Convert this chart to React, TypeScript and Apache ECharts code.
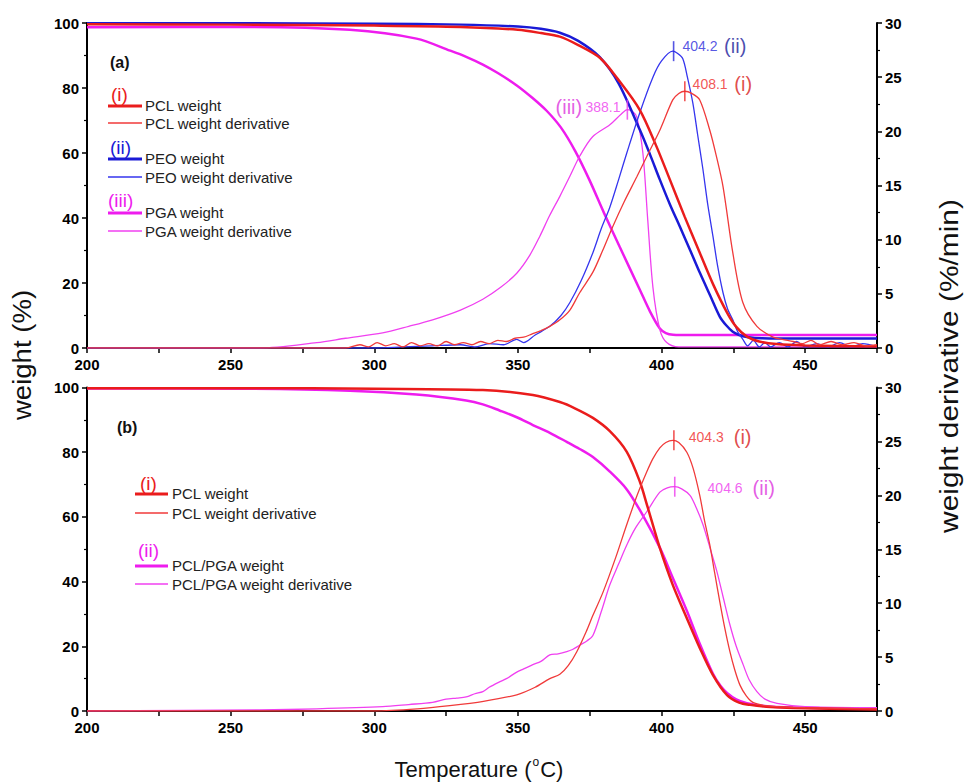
import React, { useEffect, useRef } from "react";
import * as echarts from "echarts";

type P = [number, number];

// ---------- Panel (a) ----------
const pclWeightA: P[] = [
  [200, 99.6], [250, 99.5], [300, 99.2], [330, 98.8], [350, 97.9], [358, 96.9], [364.6, 95.8],
  [371, 93.2], [378.5, 89.3], [385, 82.5], [392.4, 73.3], [398, 62.5], [402.9, 51.8], [408, 40.5],
  [413.3, 29.3], [418, 19.5], [422.8, 10.9], [426, 6.5], [429.7, 3.5], [434, 2], [440, 1.2],
  [450, 0.8], [475, 0.5],
];
const peoWeightA: P[] = [
  [200, 99.9], [250, 99.9], [300, 99.8], [330, 99.5], [350, 98.9], [358, 98.2], [364.6, 97],
  [371, 94.5], [378.5, 89.5], [385, 81.5], [392.4, 67.2], [396, 59.5], [399.4, 51.8], [403, 44],
  [406.4, 37.3], [410, 30], [413.3, 23.2], [417, 16], [420.3, 9.6], [422.5, 7], [424.8, 5],
  [427, 4], [429.7, 3.4], [435, 3.0], [450, 2.9], [475, 2.9],
];
const pgaWeightA: P[] = [
  [200, 98.7], [256.6, 98.8], [291.5, 97.9], [314.7, 95.2], [326.4, 91.5], [332, 89.6],
  [337.8, 87.2], [343, 84.6], [349.6, 80.8], [355, 77], [360, 73], [365, 67.8], [370, 60.5],
  [375, 51.5], [380, 41.5], [385.5, 31], [392.4, 18], [396, 11.2], [399.4, 6], [401.5, 4.6],
  [404, 4.1], [410, 4], [475, 4],
];
const pclDerivA: P[] = [
  [200, 0], [290, 0], [295, 0.3], [298, 0.1], [301, 0.5], [304, 0.2], [307, 0.4], [310, 0.1],
  [313, 0.5], [316, 0.2], [319, 0.4], [322, 0.2], [325, 0.6], [328, 0.3], [331, 0.5], [334, 0.3],
  [337, 0.6], [340, 0.4], [343, 0.7], [346, 0.6], [349, 0.9], [352, 1.0], [355, 1.3], [358, 1.6],
  [361.1, 2.0], [364.6, 2.6], [368.1, 3.5], [371.5, 5.1], [376.1, 7], [379.5, 9], [383, 11.2],
  [387, 13.5], [391.4, 15.8], [394.9, 17.7], [399.4, 20.1], [403.9, 22.9], [406, 23.5],
  [408.1, 23.7], [410.5, 23.5], [413.3, 22.9], [416.8, 20.1], [419, 17.8], [421.4, 14.9],
  [424.8, 8.8], [428.3, 4.2], [433.2, 2.0], [438.8, 1.0], [442, 0.8], [445.8, 0.6], [449, 0.4],
  [452, 0.7], [455, 0.3], [459, 0.6], [463, 0.3], [467, 0.5], [471, 0.2], [475, 0.3],
];
const peoDerivA: P[] = [
  [200, 0], [300, 0], [310, 0.1], [320, 0.2], [330, 0.3], [335, 0.1], [340, 0.4], [345, 0.3],
  [349.6, 0.8], [352, 0.5], [356, 1.2], [361.1, 2.0], [365, 3.0], [368.1, 4.2], [372, 6.2],
  [376.1, 8.8], [379, 11], [382, 13], [385, 15.5], [387.9, 18], [392.4, 21.7], [397, 25],
  [400, 26.5], [403.9, 27.4], [405.5, 27.2], [407.4, 26.7], [409, 25], [410.9, 22.6],
  [412.5, 19.8], [414.4, 16.5], [416, 13.4], [417.9, 10.3], [419.5, 7.6], [421.4, 5.1],
  [423, 3.6], [424.8, 2.6], [426.5, 1.5], [428.3, 0.8], [430, 0.2], [432, 0.7], [434, 0.1],
  [436, 0.5], [438, 0.1], [441, 0.5], [444, 0.1], [447, 0.6], [450, 0.1], [454, 0.4],
  [458, 0.1], [462, 0.5], [466, 0.1], [470, 0.4], [475, 0.1],
];
const pgaDerivA: P[] = [
  [200, 0], [260, 0], [280, 0.5], [290, 0.9], [302.9, 1.4], [312, 2.0], [320.3, 2.6],
  [330, 3.5], [337.8, 4.5], [344, 5.6], [349.6, 6.9], [354, 8.5], [357.6, 10.3], [361, 12.2],
  [364.6, 14], [368, 15.8], [371.5, 17.7], [376, 19.5], [382, 20.6], [386, 21.6], [388.1, 22],
  [390, 21.8], [391.4, 21.3], [393.5, 18], [395.2, 11.8], [397, 5.6], [399.4, 1.7],
  [401.8, 0.5], [406, 0.1], [475, 0.1],
];
const peaksA = [
  { t: 404.2, d: 27.4, tag: "(ii)", color: "#2b2bdc", tagColor: "#1c1c9a" },
  { t: 408.1, d: 23.7, tag: "(i)", color: "#ee2a2a", tagColor: "#d82020" },
  { t: 388.1, d: 22.0, tag: "(iii)", color: "#ee3cee", tagColor: "#dd33dd" },
];

// ---------- Panel (b) ----------
const pclWeightB: P[] = [
  [200, 99.8], [256.6, 99.8], [300, 99.6], [337.8, 99.2], [355.2, 97.7], [364.6, 95.5],
  [370, 93.5], [376.1, 90.6], [382, 86.5], [387.9, 80.1], [392.4, 71], [395, 63.5],
  [399.4, 50.4], [403.9, 39], [408.8, 28.7], [413.3, 19.5], [417.9, 11.1], [422.8, 4.9],
  [427, 2.6], [430.8, 1.9], [438, 1.2], [445.8, 0.9], [475, 0.5],
];
const pgaWeightB: P[] = [
  [200, 99.7], [256.6, 99.6], [291.5, 99.0], [314.7, 97.8], [332, 96.0], [337.8, 94.8],
  [343.6, 92.9], [349.6, 90.8], [355.2, 88.4], [361.1, 86], [367, 83.2], [371.5, 81],
  [376.1, 78.5], [382, 74], [387.9, 68.5], [393.5, 60.5], [399.4, 50.5], [403.9, 41.2],
  [408.8, 31], [413.3, 20.8], [417.9, 11.5], [420.5, 7.8], [422.8, 5.6], [426, 3.6],
  [429.7, 2.4], [435, 1.6], [440, 1.2], [455, 0.9], [475, 0.8],
];
const pclDerivB: P[] = [
  [200, 0], [300, 0], [315, 0.2], [326.3, 0.5], [338, 0.9], [349.6, 1.5], [356, 2.2],
  [361.1, 3.0], [364.6, 3.4], [367.5, 4.2], [370.5, 5.5], [374, 7.5], [376, 8.8], [379.6, 11],
  [384, 14.2], [387.9, 17.3], [391.5, 20], [394.9, 22.2], [397, 23.4], [399.4, 24.4],
  [401.5, 24.9], [403.9, 25.1], [406, 24.9], [408.8, 24], [411, 22.5], [413.3, 20],
  [415, 17.6], [416.8, 15.4], [418.5, 12.8], [420.3, 10.1], [422, 7.7], [423.8, 5.5],
  [425.5, 3.8], [427.3, 2.4], [429.5, 1.4], [431.8, 0.8], [436, 0.5], [440.2, 0.4],
  [450, 0.3], [475, 0.2],
];
const pgaDerivB: P[] = [
  [200, 0], [260, 0.1], [280, 0.2], [302.9, 0.4], [312, 0.6], [320.3, 0.8], [325, 1.1],
  [328.7, 1.2], [332, 1.3], [335, 1.6], [337.8, 1.8], [340, 2.2], [343.6, 2.7], [346, 3.0],
  [349.6, 3.6], [352, 3.9], [355.2, 4.3], [358, 4.6], [361.1, 5.2], [364, 5.3], [367, 5.5],
  [369, 5.7], [371.5, 6.1], [374, 6.5], [376.1, 7], [379, 9.2], [382, 11.7], [385, 13.6],
  [387.9, 15.4], [391, 17], [394.9, 18.5], [399.4, 20.3], [402, 20.7], [404.6, 20.8],
  [407, 20.6], [409.9, 20], [412, 18.9], [414.4, 17.3], [417, 15], [419.3, 12.9],
  [421.5, 10.5], [423.8, 8], [426, 6], [428.4, 4.3], [430.5, 2.9], [433.2, 1.8], [436, 1.1],
  [440.2, 0.7], [450, 0.4], [475, 0.3],
];
const peaksB = [
  { t: 404.3, d: 25.1, tag: "(i)", color: "#ee2a2a", tagColor: "#d82020" },
  { t: 404.6, d: 20.8, tag: "(ii)", color: "#ee3cee", tagColor: "#dd33dd" },
];

const xTicks = [200, 250, 300, 350, 400, 450];

const FONT = "'Liberation Sans', Arial, Helvetica, sans-serif";
const RED = "#ea1c1c";
const RED_T = "#f03a3a";
const BLUE = "#1a1ad6";
const BLUE_T = "#3535ee";
const MAG = "#ee1cee";
const MAG_T = "#f040f0";

const GRID_LEFT = 87;
const GRID_W = 790;

function xAxisFor(gridIndex: number) {
  return {
    type: "value",
    gridIndex,
    min: 200,
    max: 475,
    interval: 25,
    axisLine: { show: true, onZero: false, lineStyle: { color: "#000", width: 2 } },
    axisTick: { show: true, length: 5, lineStyle: { color: "#000", width: 1.5 } },
    splitLine: { show: false },
    axisLabel: {
      color: "#000",
      fontWeight: "bold",
      fontSize: 15,
      fontFamily: FONT,
      margin: 9,
      formatter: (v: number) => (xTicks.indexOf(v) >= 0 ? String(v) : ""),
    },
  };
}

function yAxisFor(gridIndex: number, right: boolean) {
  return {
    type: "value",
    gridIndex,
    position: right ? "right" : "left",
    min: 0,
    max: right ? 30 : 100,
    interval: right ? 5 : 20,
    axisLine: { show: true, onZero: false, lineStyle: { color: "#000", width: 2 } },
    axisTick: { show: true, length: 5, lineStyle: { color: "#000", width: 1.5 } },
    minorTick: { show: true, splitNumber: 2, length: 3, lineStyle: { color: "#000", width: 1.2 } },
    splitLine: { show: false },
    axisLabel: {
      color: "#000",
      fontWeight: "bold",
      fontSize: 15,
      fontFamily: FONT,
      margin: 8,
    },
  };
}

function line(data: P[], xi: number, yi: number, color: string, width: number, z: number) {
  return {
    type: "line",
    data,
    xAxisIndex: xi,
    yAxisIndex: yi,
    showSymbol: false,
    symbol: "none",
    smooth: 0.3,
    silent: true,
    z,
    lineStyle: { color, width },
    itemStyle: { color },
  };
}

function peakSeries(
  p: { t: number; d: number; tag: string; color: string; tagColor: string },
  xi: number,
  yi: number,
  side: "left" | "right",
  offset: [number, number],
  gap: string
) {
  const text =
    side === "right" ? `{n|${p.t.toFixed(1)}}${gap}{r|${p.tag}}` : `{r|${p.tag}}${gap}{n|${p.t.toFixed(1)}}`;
  return {
    type: "scatter",
    xAxisIndex: xi,
    yAxisIndex: yi,
    data: [[p.t, p.d]],
    symbol: "rect",
    symbolSize: [1.6, 20],
    silent: true,
    z: 5,
    itemStyle: { color: p.color },
    label: {
      show: true,
      position: side,
      distance: 6,
      offset,
      formatter: text,
      rich: {
        n: { fontSize: 14, fontFamily: FONT, color: p.color },
        r: { fontSize: 20, fontFamily: FONT, color: p.tagColor },
      },
    },
  };
}

function legendBlock(
  x0: number,
  x1: number,
  tx: number,
  items: { tag: string; tagX: number; tagY: number; color: string; thinColor: string; y1: number; y2: number; l1: string; l2: string }[]
) {
  const els: any[] = [];
  items.forEach((it) => {
    els.push({
      type: "text",
      x: it.tagX,
      y: it.tagY,
      style: { text: it.tag, fill: it.color, font: `19px ${FONT}`, align: "left", verticalAlign: "middle" },
    });
    els.push({
      type: "line",
      shape: { x1: x0, y1: it.y1, x2: x1, y2: it.y1 },
      style: { stroke: it.color, lineWidth: 3 },
    });
    els.push({
      type: "text",
      x: tx,
      y: it.y1 - 1,
      style: { text: it.l1, fill: "#222", font: `15px ${FONT}`, align: "left", verticalAlign: "middle" },
    });
    els.push({
      type: "line",
      shape: { x1: x0, y1: it.y2, x2: x1, y2: it.y2 },
      style: { stroke: it.thinColor, lineWidth: 1.5 },
    });
    els.push({
      type: "text",
      x: tx,
      y: it.y2,
      style: { text: it.l2, fill: "#222", font: `15px ${FONT}`, align: "left", verticalAlign: "middle" },
    });
  });
  return els;
}

export default function App() {
  const ref = useRef<HTMLDivElement>(null);

  useEffect(() => {
    if (!ref.current) return;
    const chart = echarts.init(ref.current, undefined, { renderer: "svg" });

    const graphic: any[] = [
      {
        type: "text",
        x: 110,
        y: 62,
        style: { text: "(a)", fill: "#111", font: `bold 16px ${FONT}`, align: "left", verticalAlign: "middle" },
      },
      {
        type: "text",
        x: 117,
        y: 427,
        style: { text: "(b)", fill: "#111", font: `bold 16px ${FONT}`, align: "left", verticalAlign: "middle" },
      },
      ...legendBlock(108, 142, 145, [
        { tag: "(i)", tagX: 111, tagY: 94, color: RED, thinColor: RED_T, y1: 106, y2: 123, l1: "PCL weight", l2: "PCL weight derivative" },
        { tag: "(ii)", tagX: 110, tagY: 147, color: BLUE, thinColor: BLUE_T, y1: 159, y2: 177, l1: "PEO weight", l2: "PEO weight derivative" },
        { tag: "(iii)", tagX: 108, tagY: 200, color: MAG, thinColor: MAG_T, y1: 213, y2: 231, l1: "PGA weight", l2: "PGA weight derivative" },
      ]),
      ...legendBlock(135, 168, 172, [
        { tag: "(i)", tagX: 140, tagY: 483, color: RED, thinColor: RED_T, y1: 494, y2: 513, l1: "PCL weight", l2: "PCL weight derivative" },
        { tag: "(ii)", tagX: 138, tagY: 550, color: MAG, thinColor: MAG_T, y1: 566, y2: 584, l1: "PCL/PGA weight", l2: "PCL/PGA weight derivative" },
      ]),
      {
        type: "text",
        x: 22,
        y: 355,
        rotation: Math.PI / 2,
        scaleX: 1.06,
        style: { text: "weight (%)", fill: "#111", font: `26px ${FONT}`, align: "center", verticalAlign: "middle" },
      },
      {
        type: "text",
        x: 949,
        y: 366,
        rotation: Math.PI / 2,
        scaleX: 1.15,
        style: {
          text: "weight derivative (%/min)",
          fill: "#111",
          font: `26px ${FONT}`,
          align: "center",
          verticalAlign: "middle",
        },
      },
      {
        type: "text",
        x: 479,
        y: 769,
        style: {
          text: "{a|Temperature (}{s|o}{a|C)}",
          align: "center",
          verticalAlign: "middle",
          rich: {
            a: { fontSize: 22, fontFamily: FONT, fill: "#111", lineHeight: 26 },
            s: { fontSize: 12, fontFamily: FONT, fill: "#111", verticalAlign: "top", lineHeight: 26, padding: [0, 1, 0, 1] },
          },
        },
      },
    ];

    chart.setOption({
      animation: false,
      backgroundColor: "#fff",
      grid: [
        { left: GRID_LEFT, top: 23, width: GRID_W, height: 325 },
        { left: GRID_LEFT, top: 387.5, width: GRID_W, height: 323.5 },
      ],
      xAxis: [xAxisFor(0), xAxisFor(1)],
      yAxis: [yAxisFor(0, false), yAxisFor(0, true), yAxisFor(1, false), yAxisFor(1, true)],
      series: [
        line(pgaWeightA, 0, 0, MAG, 2.5, 2),
        line(peoWeightA, 0, 0, BLUE, 2.5, 3),
        line(pclWeightA, 0, 0, RED, 2.5, 4),
        line(pgaDerivA, 0, 1, MAG_T, 1.3, 2),
        line(peoDerivA, 0, 1, BLUE_T, 1.3, 3),
        line(pclDerivA, 0, 1, RED_T, 1.3, 4),
        peakSeries(peaksA[0], 0, 1, "right", [2, -5], "  "),
        peakSeries(peaksA[1], 0, 1, "right", [1, -7], "  "),
        peakSeries(peaksA[2], 0, 1, "left", [0, -3], " "),
        line(pgaWeightB, 1, 2, MAG, 2.5, 3),
        line(pclWeightB, 1, 2, RED, 2.5, 4),
        line(pgaDerivB, 1, 3, MAG_T, 1.3, 3),
        line(pclDerivB, 1, 3, RED_T, 1.3, 4),
        peakSeries(peaksB[0], 1, 3, "right", [8, -3], "   "),
        peakSeries(peaksB[1], 1, 3, "right", [26, 1], "   "),
      ],
      graphic,
    });

    return () => chart.dispose();
  }, []);

  return (
    <div
      ref={ref}
      style={{ position: "fixed", left: 0, top: 0, width: 964, height: 783, background: "#fff" }}
    />
  );
}
